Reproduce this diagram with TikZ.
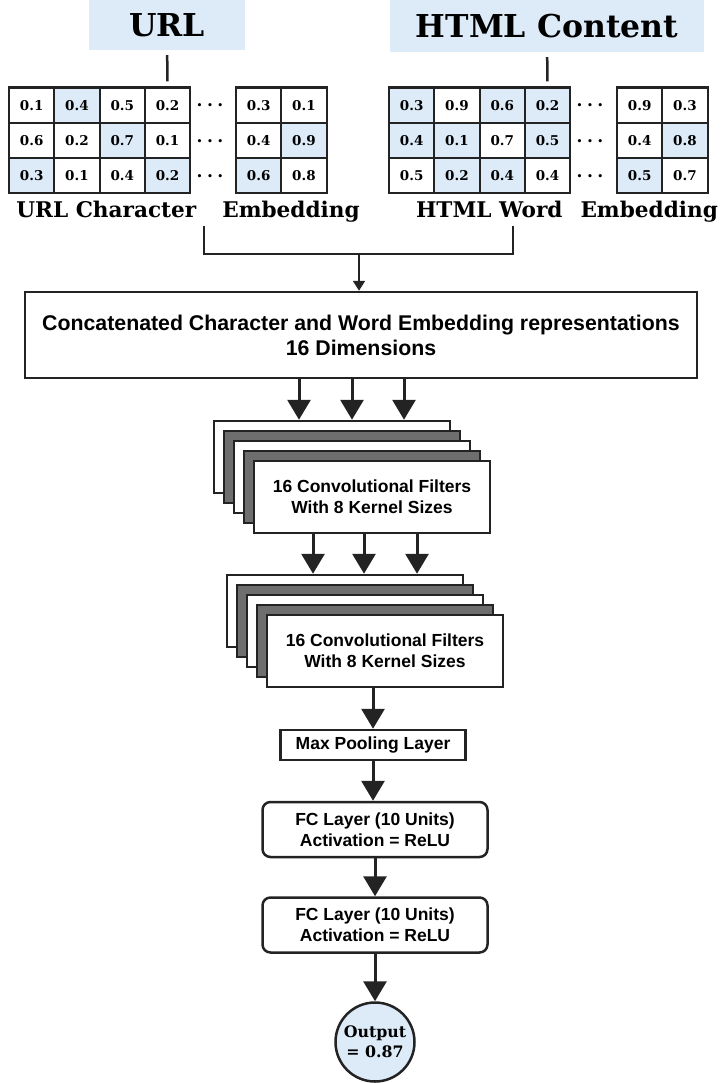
\documentclass[tikz,border=0pt]{standalone}
\usepackage{fontspec}
\setsansfont{Liberation Sans}
\newfontfamily\slabfont{DejaVu Serif}
\usetikzlibrary{arrows.meta}
\definecolor{cellblue}{RGB}{221,235,248}
\definecolor{layergray}{RGB}{110,110,110}
\definecolor{ink}{RGB}{35,35,35}

\tikzset{
  cell/.style={draw=ink, line width=2.2pt, minimum width=45.3pt, minimum height=35.3pt,
    inner sep=0pt, font=\slabfont\bfseries\fontsize{13.5}{15}\selectfont},
  titlebox/.style={fill=cellblue, inner sep=0pt, font=\slabfont\bfseries\fontsize{31.5}{34}\selectfont},
  embtext/.style={inner sep=0pt, font=\slabfont\bfseries\fontsize{21.6}{24}\selectfont},
  box/.style={draw=ink, line width=2.5pt, inner sep=0pt, align=center,
    font=\sffamily\bfseries\fontsize{17.5}{21}\selectfont},
  layerbox/.style={box, minimum width=236pt, minimum height=72pt},
  fcbox/.style={box, rounded corners=8pt, minimum width=225pt, minimum height=55pt},
  bigarrow/.style={draw=ink, line width=3pt, -{Triangle[width=23pt,length=20pt]}},
  thinarrow/.style={draw=ink, line width=2pt, -{Triangle[width=12pt,length=10pt]}},
}

\begin{document}
\begin{tikzpicture}[x=1pt,y=-1pt]
  \useasboundingbox (0,0) rectangle (727,1083);

  % inputs
  \node[titlebox, minimum width=156pt, minimum height=50pt] (url) at (167,25) {URL};
  \node[titlebox, minimum width=314pt, minimum height=52pt] (html) at (547,26) {HTML Content};

  % URL character embedding
  \foreach \row [count=\r] in {{0.1/white,0.4/cellblue,0.5/white,0.2/white,0.3/white,0.1/white},
      {0.6/white,0.2/white,0.7/cellblue,0.1/white,0.4/white,0.9/cellblue},
      {0.3/cellblue,0.1/white,0.4/white,0.2/cellblue,0.6/cellblue,0.8/white}}
    \foreach \v/\f [count=\c] in \row {
      \pgfmathsetmacro\cx{\c<5 ? 9+(\c-0.5)*45.3 : 236+(\c-4.5)*45.3}
      \pgfmathsetmacro\cy{87.5+(\r-0.5)*35.3}
      \node[cell, fill=\f] (u\r\c) at (\cx,\cy) {\v};
    }
  % HTML word embedding
  \foreach \row [count=\r] in {{0.3/cellblue,0.9/white,0.6/cellblue,0.2/cellblue,0.9/white,0.3/white},
      {0.4/cellblue,0.1/cellblue,0.7/white,0.5/cellblue,0.4/white,0.8/cellblue},
      {0.5/white,0.2/cellblue,0.4/cellblue,0.4/white,0.5/cellblue,0.7/white}}
    \foreach \v/\f [count=\c] in \row {
      \pgfmathsetmacro\cx{\c<5 ? 389+(\c-0.5)*45.3 : 617+(\c-4.5)*45.3}
      \pgfmathsetmacro\cy{87.5+(\r-0.5)*35.3}
      \node[cell, fill=\f] (h\r\c) at (\cx,\cy) {\v};
    }
  \foreach \r in {1,2,3} {
    \pgfmathsetmacro\cy{88+(\r-0.5)*35.3}
    \node[cell, draw=none, font=\slabfont\bfseries\fontsize{17}{17}\selectfont] (ud\r) at (210,\cy)
      {.\hspace{4.5pt}.\hspace{4.5pt}.};
    \node[cell, draw=none, font=\slabfont\bfseries\fontsize{17}{17}\selectfont] (hd\r) at (590,\cy)
      {.\hspace{4.5pt}.\hspace{4.5pt}.};
  }
  \draw[draw=ink, line width=2.5pt, shorten <=5pt, shorten >=5pt] (url) -- (u14);
  \draw[draw=ink, line width=2.5pt, shorten <=5pt, shorten >=5pt] (html) -- (h14);

  \node[embtext] (ulab) at (188,212) {URL Character\hspace{26pt}Embedding};
  \node[embtext] (hlab) at (567,212) {HTML Word\hspace{18pt}Embedding};

  % merge
  \coordinate (ujoin) at (204,226);
  \coordinate (hjoin) at (513,226);
  \coordinate (merge) at (359,254);
  \draw[draw=ink, line width=2pt] (ujoin) |- (merge) -| (hjoin);

  \node[box, font=\sffamily\bfseries\fontsize{21.3}{25}\selectfont, minimum width=672pt,
    minimum height=86pt] (concat) at (361,335)
    {Concatenated Character and Word Embedding representations\\16 Dimensions};
  \draw[thinarrow] (merge) -- (merge |- concat.north);

  % first convolution stack
  \foreach \i/\col [count=\k from 0] in {a/white,b/layergray,c/white,d/layergray}
    \node[layerbox, fill=\col] (c1\i) at (332+10*\k, 457+10*\k) {};
  \node[layerbox, fill=white] (c1e) at (372,497) {16 Convolutional Filters\\With 8 Kernel Sizes};
  \foreach \dx [count=\k] in {-33,20,72} {
    \coordinate (c1t\k) at ([xshift=\dx pt]c1a.north);
    \draw[bigarrow] (concat.south -| c1t\k) -- (c1t\k);
  }

  % second convolution stack
  \foreach \i/\col [count=\k from 0] in {a/white,b/layergray,c/white,d/layergray}
    \node[layerbox, fill=\col] (c2\i) at (345+10*\k, 611+10*\k) {};
  \node[layerbox, fill=white] (c2e) at (385,651) {16 Convolutional Filters\\With 8 Kernel Sizes};
  \foreach \dx [count=\k] in {-32,19,72} {
    \coordinate (c2t\k) at ([xshift=\dx pt]c2a.north);
    \draw[bigarrow] (c1e.south -| c2t\k) -- (c2t\k);
  }

  % dense part
  \node[box, minimum width=185pt, minimum height=30pt] (pool) at (373,745) {Max Pooling Layer};
  \node[fcbox] (fc1) at (375,829.5) {FC Layer (10 Units)\\Activation = ReLU};
  \node[fcbox] (fc2) at (375,925) {FC Layer (10 Units)\\Activation = ReLU};
  \node[circle, draw=ink, line width=2.5pt, fill=cellblue, minimum size=79pt, inner sep=0pt,
    align=center, font=\slabfont\bfseries\fontsize{15.8}{20}\selectfont] (out) at (375,1042)
    {Output\\= 0.87};

  \draw[bigarrow] (pool.north |- c2e.south) -- (pool);
  \draw[bigarrow] (pool.south) -- (pool.south |- fc1.north);
  \draw[bigarrow] (fc1) -- (fc2);
  \draw[bigarrow] (fc2) -- (out);
\end{tikzpicture}
\end{document}
